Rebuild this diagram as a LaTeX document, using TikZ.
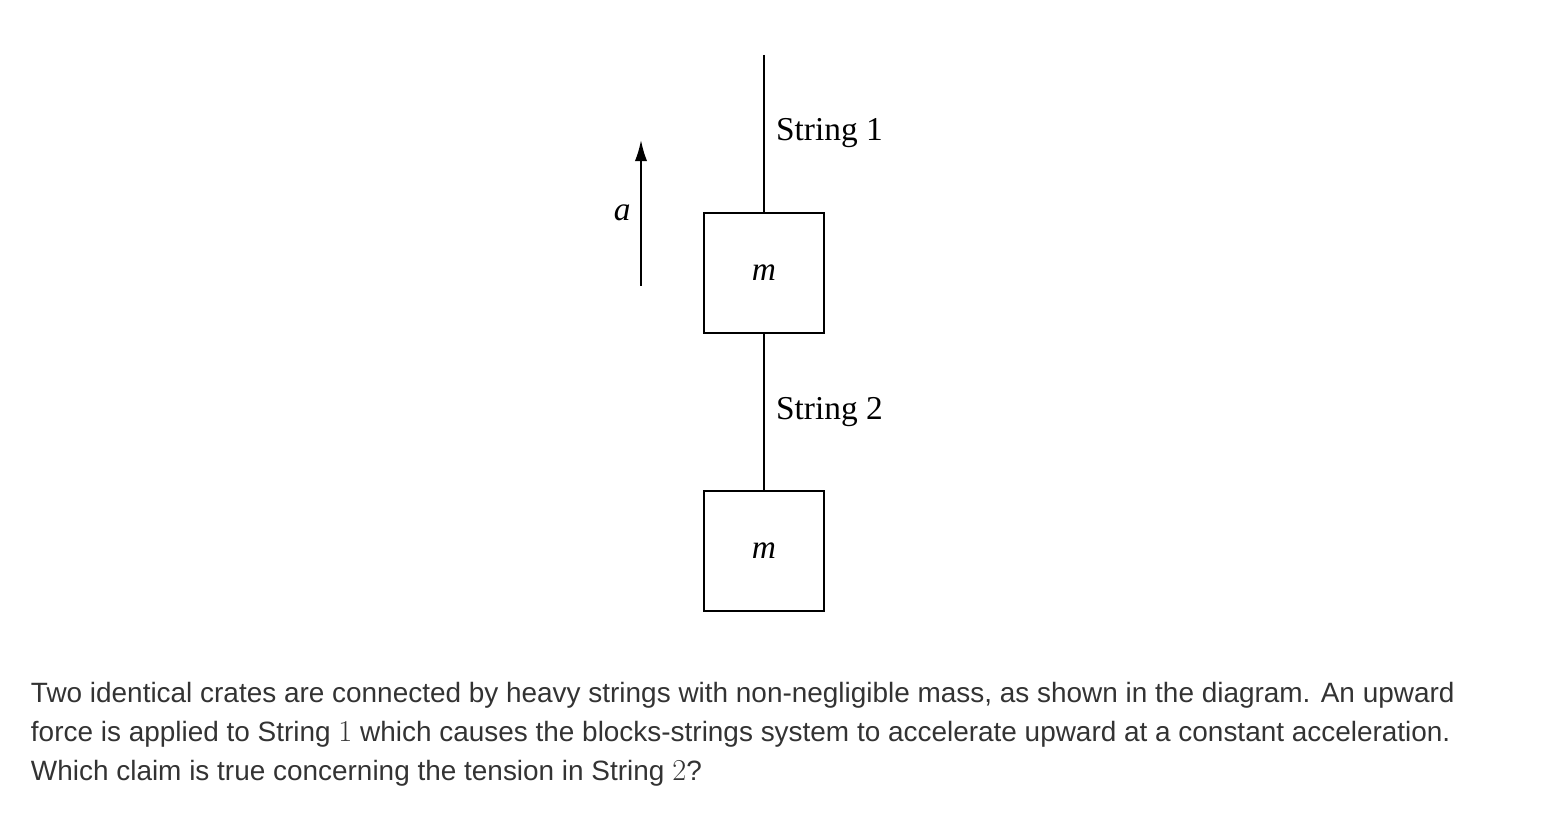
\documentclass[tikz,border=0pt]{standalone}
\usepackage{fontspec}
\setmainfont{Liberation Serif}
\setsansfont{Liberation Sans}
\usetikzlibrary{arrows.meta}
\newcommand{\bignum}[1]{{\fontsize{19}{22}\selectfont$#1$}}
\begin{document}
\begin{tikzpicture}[line width=1.1pt,
    every node/.style = {font=\fontsize{19}{22}\selectfont},
    crate/.style = {shape=rectangle, draw, minimum size=2.4cm, inner sep=0pt}]
  \useasboundingbox (0,0) rectangle (31,16.56);
  % hanging crates
  \coordinate (top) at (15.28,15.46);
  \node[crate] (box1) at (15.28,11.10) {\textit{m}};
  \node[crate] (box2) at (15.28,5.54) {\textit{m}};
  \draw (top) -- (box1.north)
    node[midway, right=3pt] (lab1) {String 1};
  \draw (box1.south) -- (box2.north)
    node[midway, right=3pt] (lab2) {String 2};
  % acceleration
  \coordinate (a0) at (12.82,10.84);
  \coordinate (a1) at (12.82,13.76);
  \draw[-{Latex[length=12pt,width=7pt]}] (a0) -- (a1)
    node[midway, left=2pt] (alab) {\textit{a}};
  % question text
  \node[anchor=north west, inner sep=0pt, align=left, text=black!80,
    font=\sffamily\fontsize{15.9}{22.2}\selectfont] (text) at (0.6,2.93)
    {Two identical crates are connected by heavy strings with non-negligible mass, as shown in the diagram. An upward\\
     force is applied to String \bignum{1} which causes the blocks-strings system to accelerate upward at a constant acceleration.\\
     Which claim is true concerning the tension in String \bignum{2}?};
\end{tikzpicture}
\end{document}
